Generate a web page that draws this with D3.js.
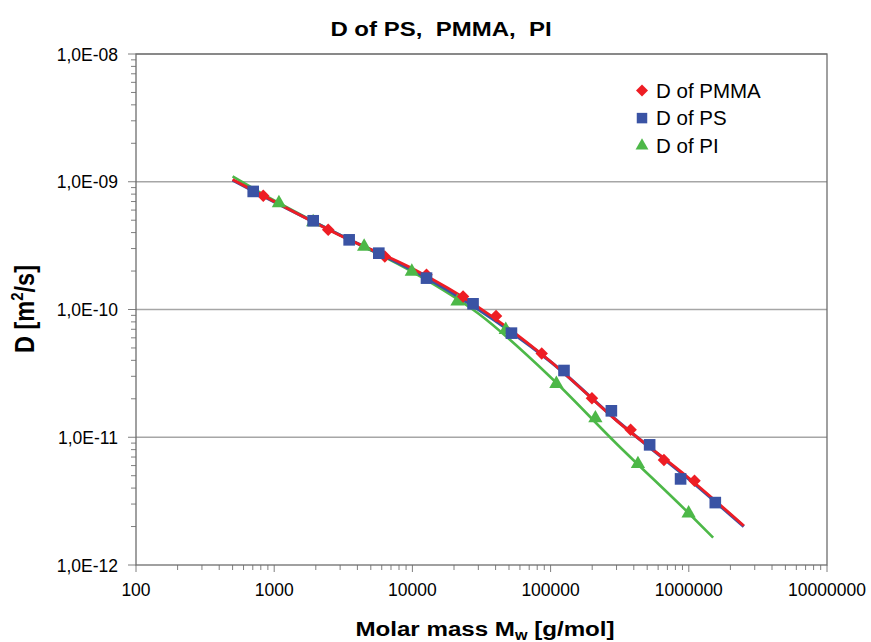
<!DOCTYPE html>
<html>
<head>
<meta charset="utf-8">
<script src="https://cdn.jsdelivr.net/npm/d3@7"></script>
<style>
  body { margin: 0; background: #fff; }
  text { font-family: "Liberation Sans", Arial, sans-serif; }
</style>
</head>
<body>
<div id="chart"></div>
<script>
// molar mass [g/mol] and D [m2/s]
const pmmaM = [833, 2458, 6316, 12650, 23260, 40290, 86250, 199200, 379500, 660700, 1100000];
const pmmaD = [7.77e-10, 4.21e-10, 2.60e-10, 1.87e-10, 1.264e-10, 8.88e-11, 4.52e-11, 2.02e-11, 1.143e-11, 6.65e-12, 4.56e-12];

const psM = [705, 1914, 3486, 5715, 12650, 27470, 52080, 125000, 275200, 520800, 872000, 1555000];
const psD = [8.40e-10, 4.95e-10, 3.51e-10, 2.76e-10, 1.76e-10, 1.108e-10, 6.53e-11, 3.33e-11, 1.61e-11, 8.72e-12, 4.72e-12, 3.08e-12];

const piM = [1082, 1914, 4476, 9901, 21190, 47370, 110100, 210900, 428500, 997000];
const piD = [6.81e-10, 4.84e-10, 3.11e-10, 1.98e-10, 1.155e-10, 6.93e-11, 2.62e-11, 1.41e-11, 6.19e-12, 2.54e-12];

// fitted trend lines
const pmmaFitM = [500, 1000, 3000, 10000, 30000, 100000, 300000, 1000000, 2500000];
const pmmaFitD = [1.04e-9, 7.0e-10, 3.80e-10, 2.09e-10, 1.045e-10, 3.92e-11, 1.35e-11, 4.8e-12, 2.03e-12];
const psFitM = [500, 1000, 3000, 10000, 30000, 100000, 300000, 1000000, 2500000];
const psFitD = [1.03e-9, 6.95e-10, 3.82e-10, 2.03e-10, 1.0e-10, 3.90e-11, 1.36e-11, 4.7e-12, 2.0e-12];
const piFitM = [500, 1000, 3000, 10000, 30000, 100000, 300000, 1000000, 1500000];
const piFitD = [1.1e-9, 7.15e-10, 3.83e-10, 1.97e-10, 9.3e-11, 2.95e-11, 8.9e-12, 2.54e-12, 1.64e-12];

const xTicks = [100, 1000, 10000, 100000, 1000000, 10000000];
const yTicks = [1e-12, 1e-11, 1e-10, 1e-9, 1e-8];
const yTickLabels = ["1,0E-12", "1,0E-11", "1,0E-10", "1,0E-09", "1,0E-08"];

const width = 871, height = 642;
const pl = 136, pr = 827, pt = 54, pb = 565;

const svg = d3.select("#chart").append("svg")
    .attr("width", width)
    .attr("height", height);

const x = d3.scaleLog().domain([100, 1e7]).range([pl, pr]);
const y = d3.scaleLog().domain([1e-12, 1e-8]).range([pb, pt]);

// gridlines
svg.append("g").selectAll("line")
    .data(yTicks.slice(1))
    .join("line")
    .attr("x1", pl).attr("x2", pr)
    .attr("y1", d => y(d)).attr("y2", d => y(d))
    .attr("stroke", "#a6a6a6")
    .attr("stroke-width", 1.3);

// minor ticks
const xMinor = [];
for (let e = 2; e < 7; e++) for (let k = 2; k < 10; k++) xMinor.push(k * Math.pow(10, e));
const yMinor = [];
for (let e = -12; e < -8; e++) for (let k = 2; k < 10; k++) yMinor.push(k * Math.pow(10, e));

const axisColor = "#7f7f7f";

svg.append("g").selectAll("line")
    .data(xMinor)
    .join("line")
    .attr("x1", d => x(d)).attr("x2", d => x(d))
    .attr("y1", pb).attr("y2", pb + 5)
    .attr("stroke", axisColor);

svg.append("g").selectAll("line")
    .data(yMinor)
    .join("line")
    .attr("x1", pl - 5).attr("x2", pl)
    .attr("y1", d => y(d)).attr("y2", d => y(d))
    .attr("stroke", axisColor);

svg.append("g").selectAll("line")
    .data(xTicks)
    .join("line")
    .attr("x1", d => x(d)).attr("x2", d => x(d))
    .attr("y1", pb).attr("y2", pb + 7)
    .attr("stroke", axisColor);

svg.append("g").selectAll("line")
    .data(yTicks)
    .join("line")
    .attr("x1", pl - 8).attr("x2", pl)
    .attr("y1", d => y(d)).attr("y2", d => y(d))
    .attr("stroke", axisColor);

// plot border
svg.append("rect")
    .attr("x", pl).attr("y", pt)
    .attr("width", pr - pl).attr("height", pb - pt)
    .attr("fill", "none")
    .attr("stroke", "#6e6e6e")
    .attr("stroke-width", 1.3);

// tick labels
svg.append("g").selectAll("text")
    .data(xTicks)
    .join("text")
    .attr("x", d => x(d))
    .attr("y", 596)
    .attr("text-anchor", "middle")
    .attr("font-size", "17.5px")
    .text(d => String(d));

svg.append("g").selectAll("text")
    .data(yTicks)
    .join("text")
    .attr("x", 118)
    .attr("y", d => y(d) + 6.7)
    .attr("text-anchor", "end")
    .attr("font-size", "17.5px")
    .text((d, i) => yTickLabels[i]);

// titles (the reference is slightly stretched horizontally)
svg.append("text")
    .attr("transform", "translate(441,36) scale(1.2,1)")
    .attr("text-anchor", "middle")
    .attr("font-size", "20px")
    .attr("font-weight", "bold")
    .attr("xml:space", "preserve")
    .text("D of PS,  PMMA,  PI");

const xt = svg.append("text")
    .attr("transform", "translate(485,636) scale(1.15,1)")
    .attr("text-anchor", "middle")
    .attr("font-size", "21px")
    .attr("font-weight", "bold");
xt.append("tspan").text("Molar mass M");
xt.append("tspan").attr("font-size", "14px").attr("dy", 4).text("w");
xt.append("tspan").attr("dy", -4).text(" [g/mol]");

const yt = svg.append("text")
    .attr("transform", "translate(33.5,309) scale(1.16,1) rotate(-90)")
    .attr("text-anchor", "middle")
    .attr("font-size", "23.5px")
    .attr("font-weight", "bold");
yt.append("tspan").text("D [m");
yt.append("tspan").attr("font-size", "15px").attr("dy", -9).text("2");
yt.append("tspan").attr("dy", 9).text("/s]");

// series
const red = "#ee1d24", blue = "#3a53a4", green = "#4db848";
const line = d3.line().x(d => x(d[0])).y(d => y(d[1])).curve(d3.curveMonotoneX);
const zip = (a, b) => a.map((v, i) => [v, b[i]]);

const plot = svg.append("g");

plot.append("path").datum(zip(piFitM, piFitD))
    .attr("d", line).attr("fill", "none").attr("stroke", green).attr("stroke-width", 2.6);
plot.append("path").datum(zip(psFitM, psFitD))
    .attr("d", line).attr("fill", "none").attr("stroke", blue).attr("stroke-width", 3.2);
plot.append("path").datum(zip(pmmaFitM, pmmaFitD))
    .attr("d", line).attr("fill", "none").attr("stroke", red).attr("stroke-width", 2.8);

const diamond = d3.symbol().type(d3.symbolSquare).size(78);
const square = d3.symbol().type(d3.symbolSquare).size(135);
const triangle = d3.symbol().type(d3.symbolTriangle).size(88);

plot.append("g").selectAll("path")
    .data(zip(piM, piD))
    .join("path")
    .attr("transform", d => `translate(${x(d[0])},${y(d[1])})`)
    .attr("d", triangle)
    .attr("fill", green);

plot.append("g").selectAll("path")
    .data(zip(pmmaM, pmmaD))
    .join("path")
    .attr("transform", d => `translate(${x(d[0])},${y(d[1])}) rotate(45)`)
    .attr("d", diamond)
    .attr("fill", red);

plot.append("g").selectAll("path")
    .data(zip(psM, psD))
    .join("path")
    .attr("transform", d => `translate(${x(d[0])},${y(d[1])})`)
    .attr("d", square)
    .attr("fill", blue);

// legend
const legend = [
    { name: "D of PMMA", color: red, sym: d3.symbol().type(d3.symbolSquare).size(72), rot: 45 },
    { name: "D of PS", color: blue, sym: d3.symbol().type(d3.symbolSquare).size(110), rot: 0 },
    { name: "D of PI", color: green, sym: d3.symbol().type(d3.symbolTriangle).size(72), rot: 0 }
];
const lg = svg.append("g");
legend.forEach((d, i) => {
    const ly = 90.5 + i * 27.6;
    lg.append("path")
        .attr("transform", `translate(642,${ly}) rotate(${d.rot})`)
        .attr("d", d.sym())
        .attr("fill", d.color);
    lg.append("text")
        .attr("x", 656).attr("y", ly + 7.3)
        .attr("font-size", "20.5px")
        .text(d.name);
});
</script>
</body>
</html>
